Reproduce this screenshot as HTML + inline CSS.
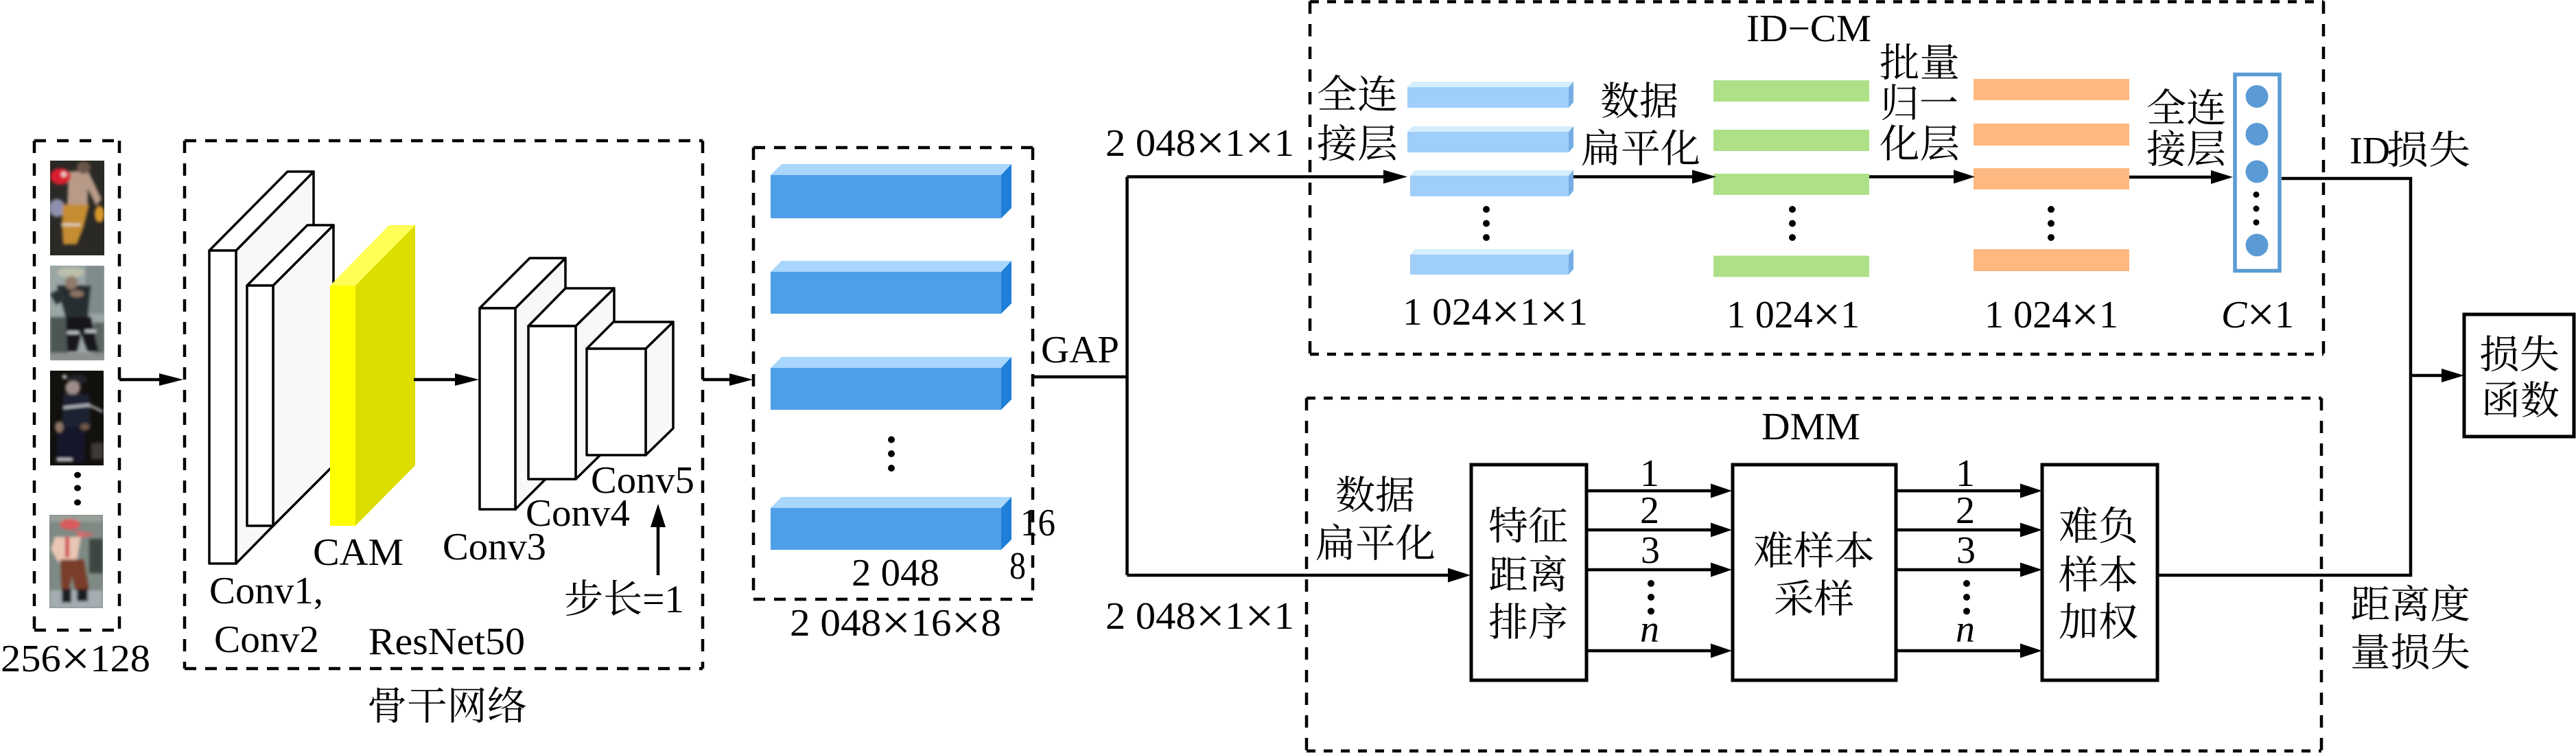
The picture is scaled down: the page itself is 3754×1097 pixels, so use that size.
<!DOCTYPE html>
<html><head><meta charset="utf-8"><style>
html,body{margin:0;padding:0;background:#fff}
svg{display:block}
text{font-family:"Liberation Serif","Noto Serif CJK SC",serif;font-size:56px;fill:#000}
.c{font-family:"Liberation Serif","Noto Serif CJK SC","Noto Sans CJK SC",serif;font-size:57px}
.i{font-style:italic}
.x{font-size:72px}
</style></head><body>
<svg width="3754" height="1097" viewBox="0 0 3754 1097" xmlns="http://www.w3.org/2000/svg">
<defs><filter id="b" x="-10%" y="-10%" width="120%" height="120%"><feGaussianBlur stdDeviation="2"/></filter>
<clipPath id="p1"><rect x="73" y="234" width="79" height="138"/></clipPath>
<clipPath id="p2"><rect x="73" y="387" width="79" height="138"/></clipPath>
<clipPath id="p3"><rect x="73" y="540" width="78" height="138"/></clipPath>
<clipPath id="p4"><rect x="72" y="750" width="78" height="136"/></clipPath></defs>
<rect width="3754" height="1097" fill="#fff"/>

<!-- photos -->
<g clip-path="url(#p1)"><rect x="73" y="234" width="79" height="138" fill="#2a2925"/><g filter="url(#b)">
<ellipse cx="83" cy="303" rx="12" ry="13" fill="#8f90ae"/>
<path d="M100 250 L128 248 L148 290 L140 300 L128 275 L128 298 L98 298Z" fill="#b89a88"/>
<ellipse cx="122" cy="244" rx="10" ry="9" fill="#6b5548"/>
<ellipse cx="88" cy="257" rx="15" ry="12" fill="#d81f2d"/><ellipse cx="93" cy="254" rx="4" ry="4" fill="#f4c8c8"/>
<path d="M92 298 H130 L122 330 L112 356 H92 L90 325Z" fill="#c58c30"/><ellipse cx="145" cy="312" rx="7" ry="12" fill="#d8982c"/>
<rect x="89" y="326" width="28" height="3" fill="#e8dcc8"/></g></g>
<g clip-path="url(#p2)"><rect x="73" y="387" width="79" height="138" fill="#9aa6a4"/><g filter="url(#b)">
<rect x="73" y="462" width="26" height="63" fill="#4d5654"/><rect x="125" y="387" width="27" height="70" fill="#7f8b8a"/><rect x="136" y="470" width="16" height="55" fill="#5c6462"/>
<path d="M83 416 H133 L128 462 H96 Z" fill="#262d30"/><path d="M73 428 L90 420 L95 436 L82 444Z" fill="#2a3234"/>
<ellipse cx="103" cy="397" rx="20" ry="7" fill="#bdc0ac"/><ellipse cx="104" cy="412" rx="9" ry="10" fill="#8e7a6a"/><ellipse cx="112" cy="428" rx="10" ry="5" fill="#8e7566"/>
<path d="M96 462 H132 L144 512 H128 L118 485 L112 512 H98Z" fill="#14191b"/>
<rect x="98" y="483" width="17" height="3" fill="#e0e6e6"/><rect x="124" y="481" width="16" height="3" fill="#e0e6e6"/>
<rect x="73" y="514" width="79" height="11" fill="#8b8f8c"/></g></g>
<g clip-path="url(#p3)"><rect x="73" y="540" width="78" height="138" fill="#12110e"/><g filter="url(#b)">
<ellipse cx="113" cy="553" rx="14" ry="7" fill="#23232a"/><ellipse cx="106" cy="565" rx="11" ry="10" fill="#9c8c8a"/><circle cx="94" cy="549" r="3" fill="#ddd"/>
<path d="M92 574 H130 L132 622 H90Z" fill="#1b2032"/><path d="M84 622 H124 L123 673 H82Z" fill="#12162a"/>
<path d="M92 594 L130 590 L150 600" stroke="#dfe2ea" stroke-width="2.5" fill="none"/><ellipse cx="86" cy="622" rx="6" ry="8" fill="#8e7666"/><ellipse cx="124" cy="622" rx="7" ry="5" fill="#6e5648"/>
<rect x="83" y="668" width="22" height="3" fill="#d8dadf"/><rect x="133" y="645" width="18" height="24" fill="#3c3a36"/></g></g>
<g clip-path="url(#p4)"><rect x="72" y="750" width="78" height="136" fill="#7e8a84"/><g filter="url(#b)">
<rect x="130" y="785" width="20" height="50" fill="#3e4440"/><rect x="72" y="750" width="78" height="10" fill="#9aa09a"/>
<ellipse cx="102" cy="764" rx="15" ry="8" fill="#d85c5c"/><path d="M108 772 L140 778 L115 785Z" fill="#cf6a6a"/>
<path d="M80 782 H118 L112 818 H84 L74 800Z" fill="#eac6b4"/><rect x="95" y="782" width="6" height="30" fill="#d24e4e"/>
<path d="M88 815 H122 L130 861 H110 L105 838 L100 861 H90Z" fill="#7a3c2c"/>
<rect x="72" y="860" width="78" height="26" fill="#a4adb2"/><rect x="90" y="858" width="14" height="20" fill="#1c1d20"/><rect x="112" y="858" width="16" height="18" fill="#1c1d20"/></g></g>
<g fill="#000"><ellipse cx="113" cy="692" rx="5" ry="4.5"/><ellipse cx="113" cy="711" rx="5" ry="4.5"/><ellipse cx="113" cy="732" rx="5" ry="4.5"/></g>

<!-- dashed boxes -->
<g fill="none" stroke="#000" stroke-width="4.5">
<path d="M50 205H174" stroke-dasharray="17 16"/><path d="M50 918H174" stroke-dasharray="17 16"/>
<path d="M50 205V918M174 205V918" stroke-dasharray="18 15"/>
<path d="M269 205H1024M269 974H1024" stroke-dasharray="17 13"/>
<path d="M269 205V974M1024 205V974" stroke-dasharray="18 15"/>
<path d="M1098 215H1505M1098 873H1505" stroke-dasharray="17 13"/>
<path d="M1098 215V873M1505 215V873" stroke-dasharray="18 15"/>
<path d="M1909 2.5H3386M1909 516H3386" stroke-dasharray="13 12"/>
<path d="M1909 2V516M3386 2V516" stroke-dasharray="18 15"/>
<path d="M1904 580H3383M1904 1094H3383" stroke-dasharray="13 12"/>
<path d="M1904 580V1094M3383 580V1094" stroke-dasharray="18 15"/>
</g>

<!-- Conv blocks -->
<g stroke="#000" stroke-width="3.5" stroke-linejoin="round">
<polygon points="344,365 457,250 457,706 344,821" fill="#f8f8f8"/>
<polygon points="305,365 419,250 457,250 344,365" fill="#fff"/>
<rect x="305" y="365" width="39" height="456" fill="#fff"/>
<polygon points="398,416 486,328 486,678 398,766" fill="#f8f8f8"/>
<polygon points="360,416 448,328 486,328 398,416" fill="#fff"/>
<rect x="360" y="416" width="38" height="350" fill="#fff"/>
</g>
<polygon points="518,416 605,328 605,678 518,766" fill="#dddd00"/>
<polygon points="481,416 567,328 605,328 518,416" fill="#ffff55"/>
<rect x="481" y="416" width="37" height="350" fill="#ffff00"/>
<g stroke="#000" stroke-width="3.5" stroke-linejoin="round">
<polygon points="751,449 824,376 824,669 751,742" fill="#f8f8f8"/>
<polygon points="699,449 772,376 824,376 751,449" fill="#fff"/>
<rect x="699" y="449" width="52" height="293" fill="#fff"/>
<polygon points="839,475 895,420 895,643 839,698" fill="#f8f8f8"/>
<polygon points="770,475 824,420 895,420 839,475" fill="#fff"/>
<rect x="770" y="475" width="69" height="223" fill="#fff"/>
<polygon points="941,508 981,469 981,624 941,663" fill="#f8f8f8"/>
<polygon points="855,508 894,469 981,469 941,508" fill="#fff"/>
<rect x="855" y="508" width="86" height="155" fill="#fff"/>
</g>

<!-- large blue blocks -->
<g>
<polygon points="1123,255 1139,239 1474,239 1459,255" fill="#a9d6fd"/><polygon points="1459,255 1474,239 1474,303 1459,318" fill="#1f7fd8"/><rect x="1123" y="255" width="336" height="63" fill="#4f9fe8"/>
<polygon points="1123,396 1139,380 1474,380 1459,396" fill="#a9d6fd"/><polygon points="1459,396 1474,380 1474,442 1459,457" fill="#1f7fd8"/><rect x="1123" y="396" width="336" height="61" fill="#4f9fe8"/>
<polygon points="1123,536 1139,520 1474,520 1459,536" fill="#a9d6fd"/><polygon points="1459,536 1474,520 1474,582 1459,597" fill="#1f7fd8"/><rect x="1123" y="536" width="336" height="61" fill="#4f9fe8"/>
<polygon points="1123,740 1139,724 1474,724 1459,740" fill="#a9d6fd"/><polygon points="1459,740 1474,724 1474,786 1459,801" fill="#1f7fd8"/><rect x="1123" y="740" width="336" height="61" fill="#4f9fe8"/>
</g>
<g fill="#000"><circle cx="1299" cy="640.5" r="5"/><circle cx="1299" cy="661" r="5"/><circle cx="1299" cy="682" r="5"/></g>

<!-- light blue blocks -->
<polygon points="2051,127 2058,119 2293,119 2286,127" fill="#d5eefd"/><polygon points="2286,127 2293,119 2293,149 2286,157" fill="#74aee3"/><rect x="2051" y="127" width="235" height="30" fill="#a0cefa"/>
<polygon points="2051,192 2058,184 2293,184 2286,192" fill="#d5eefd"/><polygon points="2286,192 2293,184 2293,214 2286,222" fill="#74aee3"/><rect x="2051" y="192" width="235" height="30" fill="#a0cefa"/>
<polygon points="2055,256 2062,248 2293,248 2286,256" fill="#d5eefd"/><polygon points="2286,256 2293,248 2293,278 2286,286" fill="#74aee3"/><rect x="2055" y="256" width="231" height="30" fill="#a0cefa"/>
<polygon points="2055,371 2062,363 2293,363 2286,371" fill="#d5eefd"/><polygon points="2286,371 2293,363 2293,392 2286,400" fill="#74aee3"/><rect x="2055" y="371" width="231" height="29" fill="#a0cefa"/>
<!-- green -->
<g fill="#aee088"><rect x="2497" y="117" width="227" height="31"/><rect x="2497" y="189" width="227" height="31"/><rect x="2497" y="253" width="227" height="31"/><rect x="2497" y="372.5" width="227" height="31"/></g>
<!-- orange -->
<g fill="#ffb880"><rect x="2876" y="115" width="227" height="31"/><rect x="2876" y="180" width="227" height="32"/><rect x="2876" y="245" width="227" height="31"/><rect x="2876" y="363" width="227" height="32"/></g>
<g fill="#000">
<circle cx="2166" cy="305" r="5"/><circle cx="2166" cy="325.5" r="5"/><circle cx="2166" cy="346" r="5"/>
<circle cx="2612" cy="305" r="5"/><circle cx="2612" cy="325.5" r="5"/><circle cx="2612" cy="346" r="5"/>
<circle cx="2989" cy="305" r="5"/><circle cx="2989" cy="325.5" r="5"/><circle cx="2989" cy="346" r="5"/>
</g>
<rect x="3257" y="108.5" width="65" height="286" fill="#fff" stroke="#5b9bd5" stroke-width="5.5"/>
<g fill="#5b9bd5"><circle cx="3289" cy="140.5" r="16.5"/><circle cx="3289" cy="195.5" r="16.5"/><circle cx="3289" cy="250" r="16.5"/><circle cx="3289" cy="357" r="16.5"/></g>
<g fill="#000"><circle cx="3288" cy="283.5" r="4.5"/><circle cx="3288" cy="304" r="4.5"/><circle cx="3288" cy="324" r="4.5"/></g>

<!-- lines -->
<g fill="none" stroke="#000" stroke-width="4.5">
<path d="M174 553H235M603 553H668M1024 553H1068"/>
<path d="M959 838V765"/>
<path d="M1505 549H1642.5M1642.5 257.5V838M1642.5 257.5H2020M1642.5 838H2115"/>
<path d="M2293 257.5H2470M2724 257.5H2850M3103 258H3226"/>
<path d="M3325 260H3513V838H3145"/>
<path d="M3513 547H3562"/>
<path d="M2312 715H2497M2312 772H2497M2312 830H2497M2312 948H2497"/>
<path d="M2763 715H2948M2763 772H2948M2763 830H2948M2763 948H2948"/>
</g>
<g fill="#000">
<polygon points="232,544 267,553 232,562"/><polygon points="663,544 698,553 663,562"/><polygon points="1063,544 1097,553 1063,562"/>
<polygon points="948,768 959,734 970,768"/>
<polygon points="2016,247.5 2051,257.5 2016,267.5"/><polygon points="2466,247.5 2501,257.5 2466,267.5"/><polygon points="2847,247.5 2878,257.5 2847,267.5"/><polygon points="3222,248 3254,258 3222,268"/>
<polygon points="3558,537 3591,547 3558,557"/>
<polygon points="2110,827.5 2143,838 2110,848.5"/>
<polygon points="2493,704.5 2524,715 2493,725.5"/><polygon points="2493,761.5 2524,772 2493,782.5"/><polygon points="2493,819.5 2524,830 2493,840.5"/><polygon points="2493,937.5 2524,948 2493,958.5"/>
<polygon points="2944,704.5 2976,715 2944,725.5"/><polygon points="2944,761.5 2976,772 2944,782.5"/><polygon points="2944,819.5 2976,830 2944,840.5"/><polygon points="2944,937.5 2976,948 2944,958.5"/>
<circle cx="2406" cy="850" r="5"/><circle cx="2406" cy="870" r="5"/><circle cx="2406" cy="890.5" r="5"/>
<circle cx="2866" cy="850" r="5"/><circle cx="2866" cy="870" r="5"/><circle cx="2866" cy="890.5" r="5"/>
</g>
<!-- solid boxes -->
<g fill="#fff" stroke="#000" stroke-width="5">
<rect x="2144" y="677" width="168" height="314"/>
<rect x="2525" y="677" width="238" height="314"/>
<rect x="2976" y="677" width="168" height="314"/>
<rect x="3591" y="458" width="160" height="178"/>
</g>

<!-- labels -->
<g>
<text x="1" y="978" textLength="218" lengthAdjust="spacingAndGlyphs">256<tspan class="x" dy="5">×</tspan><tspan dy="-5">128</tspan></text>
<text x="305" y="879" textLength="166" lengthAdjust="spacingAndGlyphs">Conv1,</text>
<text x="312" y="950" textLength="153" lengthAdjust="spacingAndGlyphs">Conv2</text>
<text x="456" y="823" textLength="132" lengthAdjust="spacingAndGlyphs">CAM</text>
<text x="645" y="815" textLength="151" lengthAdjust="spacingAndGlyphs">Conv3</text>
<text x="766" y="766" textLength="152" lengthAdjust="spacingAndGlyphs">Conv4</text>
<text x="861" y="718" textLength="151" lengthAdjust="spacingAndGlyphs">Conv5</text>
<text x="537" y="953" textLength="228" lengthAdjust="spacingAndGlyphs">ResNet50</text>
<text class="c" x="822" y="892" textLength="175" lengthAdjust="spacingAndGlyphs">步长=1</text>
<text class="c" x="535" y="1048" textLength="233" lengthAdjust="spacingAndGlyphs">骨干网络</text>
<text x="1487" y="780" textLength="51" lengthAdjust="spacingAndGlyphs">16</text>
<text x="1471" y="843" textLength="24" lengthAdjust="spacingAndGlyphs">8</text>
<text x="1241" y="853" textLength="128" lengthAdjust="spacingAndGlyphs">2 048</text>
<text x="1151" y="926" textLength="308" lengthAdjust="spacingAndGlyphs">2 048<tspan class="x" dy="5">×</tspan><tspan dy="-5">16</tspan><tspan class="x" dy="5">×</tspan><tspan dy="-5">8</tspan></text>
<text x="1517" y="528" textLength="114" lengthAdjust="spacingAndGlyphs">GAP</text>
<text x="1611" y="227" textLength="275" lengthAdjust="spacingAndGlyphs">2 048<tspan class="x" dy="5">×</tspan><tspan dy="-5">1</tspan><tspan class="x" dy="5">×</tspan><tspan dy="-5">1</tspan></text>
<text x="1611" y="916" textLength="275" lengthAdjust="spacingAndGlyphs">2 048<tspan class="x" dy="5">×</tspan><tspan dy="-5">1</tspan><tspan class="x" dy="5">×</tspan><tspan dy="-5">1</tspan></text>
<text x="2545" y="60" textLength="182" lengthAdjust="spacingAndGlyphs">ID−CM</text>
<text x="2044" y="473" textLength="270" lengthAdjust="spacingAndGlyphs">1 024<tspan class="x" dy="5">×</tspan><tspan dy="-5">1</tspan><tspan class="x" dy="5">×</tspan><tspan dy="-5">1</tspan></text>
<text x="2516" y="477" textLength="194" lengthAdjust="spacingAndGlyphs">1 024<tspan class="x" dy="5">×</tspan><tspan dy="-5">1</tspan></text>
<text x="2892" y="477" textLength="195" lengthAdjust="spacingAndGlyphs">1 024<tspan class="x" dy="5">×</tspan><tspan dy="-5">1</tspan></text>
<text x="3237" y="477" textLength="106" lengthAdjust="spacingAndGlyphs"><tspan class="i">C</tspan><tspan class="x" dy="5">×</tspan><tspan dy="-5">1</tspan></text>
<text x="2567" y="640" textLength="144" lengthAdjust="spacingAndGlyphs">DMM</text>

<text class="c" x="1919" y="157" textLength="118" lengthAdjust="spacingAndGlyphs">全连</text>
<text class="c" x="1919" y="229" textLength="118" lengthAdjust="spacingAndGlyphs">接层</text>
<text class="c" x="2332" y="167" textLength="114" lengthAdjust="spacingAndGlyphs">数据</text>
<text class="c" x="2304" y="236" textLength="174" lengthAdjust="spacingAndGlyphs">扁平化</text>
<text class="c" x="2739" y="111" textLength="117" lengthAdjust="spacingAndGlyphs">批量</text>
<text class="c" x="2740" y="170" textLength="114" lengthAdjust="spacingAndGlyphs">归一</text>
<text class="c" x="2739" y="229" textLength="117" lengthAdjust="spacingAndGlyphs">化层</text>
<text class="c" x="3128" y="177" textLength="116" lengthAdjust="spacingAndGlyphs">全连</text>
<text class="c" x="3128" y="237" textLength="116" lengthAdjust="spacingAndGlyphs">接层</text>
<text x="3424" y="238">ID</text>
<text class="c" x="3478" y="238" textLength="122" lengthAdjust="spacingAndGlyphs">损失</text>
<text class="c" x="3613" y="536" textLength="117" lengthAdjust="spacingAndGlyphs">损失</text>
<text class="c" x="3616" y="603" textLength="114" lengthAdjust="spacingAndGlyphs">函数</text>
<text class="c" x="1946" y="741" textLength="116" lengthAdjust="spacingAndGlyphs">数据</text>
<text class="c" x="1917" y="811" textLength="175" lengthAdjust="spacingAndGlyphs">扁平化</text>
<text class="c" x="2169" y="786" textLength="116" lengthAdjust="spacingAndGlyphs">特征</text>
<text class="c" x="2169" y="857" textLength="116" lengthAdjust="spacingAndGlyphs">距离</text>
<text class="c" x="2169" y="926" textLength="116" lengthAdjust="spacingAndGlyphs">排序</text>
<text class="c" x="2555" y="822" textLength="177" lengthAdjust="spacingAndGlyphs">难样本</text>
<text class="c" x="2585" y="892" textLength="117" lengthAdjust="spacingAndGlyphs">采样</text>
<text class="c" x="3000" y="786" textLength="116" lengthAdjust="spacingAndGlyphs">难负</text>
<text class="c" x="3000" y="857" textLength="116" lengthAdjust="spacingAndGlyphs">样本</text>
<text class="c" x="3000" y="926" textLength="116" lengthAdjust="spacingAndGlyphs">加权</text>
<text class="c" x="3425" y="900" textLength="175" lengthAdjust="spacingAndGlyphs">距离度</text>
<text class="c" x="3425" y="970" textLength="175" lengthAdjust="spacingAndGlyphs">量损失</text>
<g text-anchor="middle">
<text x="2404" y="708">1</text><text x="2404" y="762">2</text><text x="2405" y="820">3</text><text x="2404" y="935" class="i">n</text>
<text x="2864" y="708">1</text><text x="2864" y="762">2</text><text x="2865" y="820">3</text><text x="2864" y="935" class="i">n</text>
</g>
</g>
</svg>
</body></html>
